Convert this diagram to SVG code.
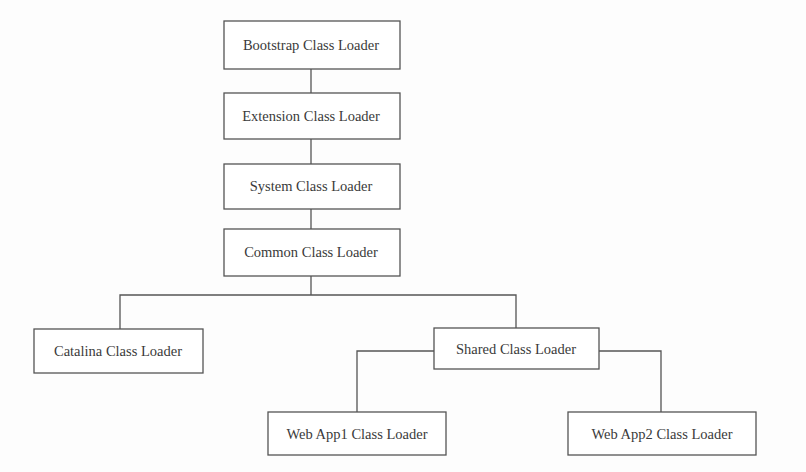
<svg xmlns="http://www.w3.org/2000/svg" width="806" height="472" viewBox="0 0 806 472">
<style>
.box{fill:#ffffff;stroke:#555;stroke-width:1.3}
.lbl{font-family:"Liberation Serif","Times New Roman",serif;font-size:14.5px;fill:#3a3a3a;text-anchor:middle;dominant-baseline:central}
.conn{fill:none;stroke:#555;stroke-width:1.3}
</style>
<rect width="806" height="472" fill="#fdfdfd"/>
<g id="connectors">
<path class="conn" d="M311 69V93"/>
<path class="conn" d="M311 139V164"/>
<path class="conn" d="M311 209V229"/>
<path class="conn" d="M311 276V295"/>
<path class="conn" d="M120 329V295H516V328"/>
<path class="conn" d="M434 351H357V412"/>
<path class="conn" d="M599 351H661V412"/>
</g>
<g id="bootstrap"><rect class="box" x="224" y="21" width="176" height="48"/><text class="lbl" x="311" y="45">Bootstrap Class Loader</text></g>
<g id="extension"><rect class="box" x="224" y="93" width="176" height="46"/><text class="lbl" x="311" y="116">Extension Class Loader</text></g>
<g id="system"><rect class="box" x="224" y="164" width="176" height="45"/><text class="lbl" x="311" y="186">System Class Loader</text></g>
<g id="common"><rect class="box" x="224" y="229" width="176" height="47"/><text class="lbl" x="311" y="252">Common Class Loader</text></g>
<g id="catalina"><rect class="box" x="34" y="329" width="169" height="44"/><text class="lbl" x="118" y="351">Catalina Class Loader</text></g>
<g id="shared"><rect class="box" x="434" y="328" width="165" height="41"/><text class="lbl" x="516" y="349">Shared Class Loader</text></g>
<g id="webapp1"><rect class="box" x="268" y="412" width="178" height="43"/><text class="lbl" x="357" y="434">Web App1 Class Loader</text></g>
<g id="webapp2"><rect class="box" x="568" y="412" width="188" height="43"/><text class="lbl" x="662" y="434">Web App2 Class Loader</text></g>
</svg>
